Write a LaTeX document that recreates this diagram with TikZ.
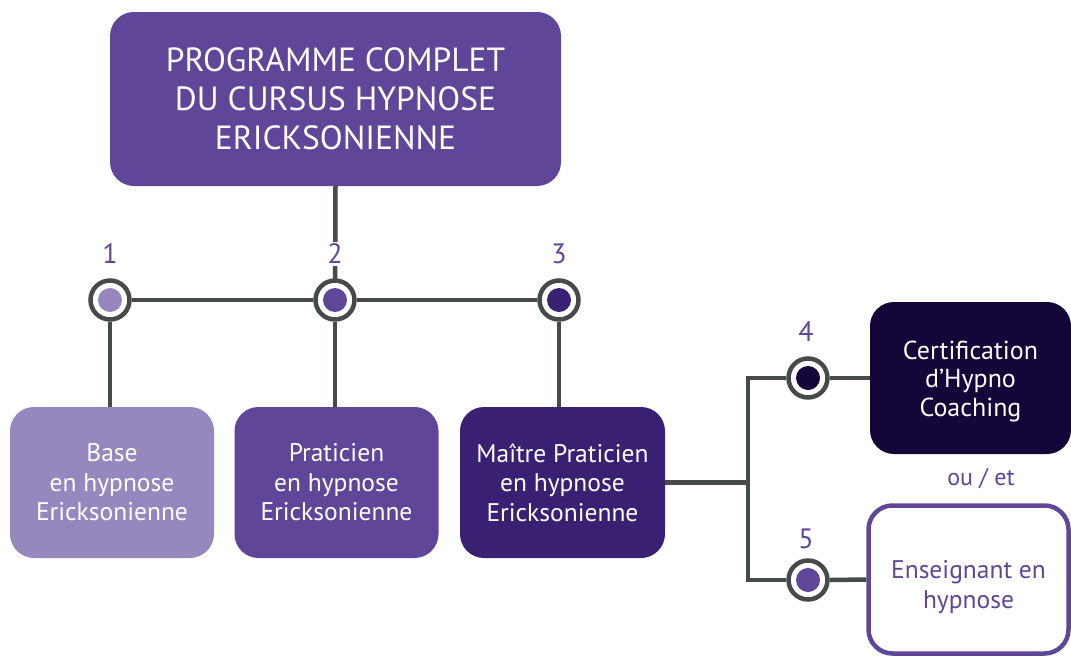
\documentclass[tikz,border=0pt]{standalone}
\usepackage{fontspec}
\setmainfont{PT Sans}
\definecolor{pmid}{HTML}{5F4698}
\definecolor{plight}{HTML}{9688BE}
\definecolor{pdark}{HTML}{3A2073}
\definecolor{pnavy}{HTML}{140638}
\definecolor{lgray}{HTML}{474A4B}
\tikzset{
  box/.style={rounded corners=24pt, align=center, text=white, inner sep=0pt,
    font=\fontsize{25.5}{29.5}\selectfont},
  link/.style={draw=lgray, line width=4.5pt},
  dot/.style={circle, draw=lgray, line width=4.5pt, fill=white, minimum size=39pt, inner sep=0pt,
    path picture={\fill[#1] (path picture bounding box.center) circle (12pt);}},
  num/.style={text=pmid, fill=white, inner sep=2pt, font=\fontsize{28}{28}\selectfont},
}
\begin{document}
\begin{tikzpicture}[x=1pt,y=-1pt]
\useasboundingbox (0,0) rectangle (1071,656);
\node[box, fill=pmid, minimum width=451pt, minimum height=174pt,
  font=\fontsize{33.5}{39}\selectfont] (top) at (335.5,99) {PROGRAMME COMPLET\\DU CURSUS HYPNOSE\\ERICKSONIENNE};
\coordinate (j) at (748,482.5);
\coordinate (c2top) at (335,300);
\draw[link] (top.south) -- (c2top);
\node[dot=plight] (c1) at (110,300) {};
\node[dot=pmid] (c2) at (c2top) {};
\node[dot=pdark] (c3) at (559,300) {};
\node[num] (n1) at (110,254) {1};
\node[num] (n2) at (335,254) {2};
\node[num] (n3) at (559,254) {3};
\node[box, fill=plight, minimum width=204pt, minimum height=151pt] (b1) at (112,482.5) {Base\\en hypnose\\Ericksonienne};
\node[box, fill=pmid, minimum width=204pt, minimum height=151pt] (b2) at (336.5,482.5) {Praticien\\en hypnose\\Ericksonienne};
\node[box, fill=pdark, minimum width=205pt, minimum height=151pt] (b3) at (562.5,482.5) {Maître Praticien\\en hypnose\\Ericksonienne};
\node[box, fill=pnavy, minimum width=201pt, minimum height=152pt, font=\fontsize{26}{28.5}\selectfont] (b4) at (970.5,378) {\rule{0pt}{25pt}Certification\\d’Hypno\\Coaching};
\node[box, draw=pmid, line width=4.5pt, fill=white, text=pmid, minimum width=200pt, minimum height=148pt] (b5) at (968.5,579.5) {\rule{0pt}{33pt}Enseignant en\\hypnose};
\node[dot=pnavy] (c4) at (808,378) {};
\node[dot=pmid] (c5) at (808,580) {};
\node[num] (n4) at (806,332) {4};
\node[num] (n5) at (806,539) {5};
\node[text=pmid, font=\fontsize{24}{24}\selectfont] (ou) at (981,479) {ou / et};
\draw[link] (c1) -- (c2) -- (c3);
\draw[link] (c1.south) -- (b1.north -| c1);
\draw[link] (c2.south) -- (b2.north -| c2);
\draw[link] (c3.south) -- (b3.north -| c3);
\draw[link] (b3.east) -- (j);
\draw[link] (c4.west) -| (j) |- (c5.west);
\draw[link] (c4.east) -- (b4.west);
\draw[link] (c5.east) -- (b5.west);
\end{tikzpicture}
\end{document}
